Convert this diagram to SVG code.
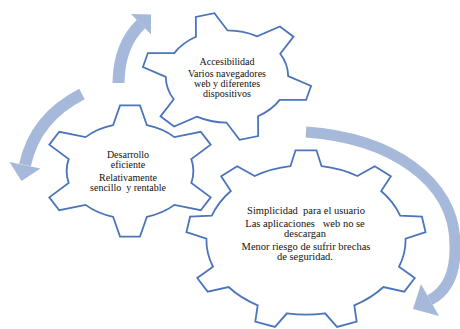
<svg xmlns="http://www.w3.org/2000/svg" xmlns:xlink="http://www.w3.org/1999/xlink" width="460" height="329" viewBox="0 0 460 329">
<style>
.gear{fill:#ffffff;stroke:#4a74bb;stroke-width:1.8;stroke-linejoin:miter;vector-effect:non-scaling-stroke}
.band{fill:none;stroke:#a6b9da;stroke-width:12;stroke-linecap:butt}
.head{fill:#a6b9da}
.t{font-family:"Liberation Serif","Times New Roman",serif;font-size:10px;fill:#111;text-anchor:middle;white-space:pre}
.tb{font-size:10.5px}
</style>
<defs>
<path id="gear6" class="gear" d="M-19.24,-69.38 L-11.32,-99.36 L11.32,-99.36 L19.24,-69.38 A72,72 0 0 1 50.46,-51.36 L80.39,-59.48 L91.71,-39.87 L69.70,-18.03 A72,72 0 0 1 69.70,18.03 L91.71,39.87 L80.39,59.48 L50.46,51.36 A72,72 0 0 1 19.24,69.38 L11.32,99.36 L-11.32,99.36 L-19.24,69.38 A72,72 0 0 1 -50.46,51.36 L-80.39,59.48 L-91.71,39.87 L-69.70,18.03 A72,72 0 0 1 -69.70,-18.03 L-91.71,-39.87 L-80.39,-59.48 L-50.46,-51.36 A72,72 0 0 1 -19.24,-69.38 Z"/>
<path id="gear9" class="gear" d="M-12.98,-81.98 L-8.72,-99.62 L8.72,-99.62 L12.98,-81.98 A83,83 0 0 1 42.75,-71.15 L57.36,-81.92 L70.71,-70.71 L62.64,-54.46 A83,83 0 0 1 78.48,-27.02 L96.59,-25.88 L99.62,-8.72 L82.99,-1.45 A83,83 0 0 1 77.49,29.75 L90.63,42.26 L81.92,57.36 L64.50,52.23 A83,83 0 0 1 40.24,72.59 L42.26,90.63 L25.88,96.59 L15.84,81.47 A83,83 0 0 1 -15.84,81.47 L-25.88,96.59 L-42.26,90.63 L-40.24,72.59 A83,83 0 0 1 -64.50,52.23 L-81.92,57.36 L-90.63,42.26 L-77.49,29.75 A83,83 0 0 1 -82.99,-1.45 L-99.62,-8.72 L-96.59,-25.88 L-78.48,-27.02 A83,83 0 0 1 -62.64,-54.46 L-70.71,-70.71 L-57.36,-81.92 L-42.75,-71.15 A83,83 0 0 1 -12.98,-81.98 Z"/>
</defs>
<rect width="460" height="329" fill="#ffffff"/>
<g id="connectors">
<path class="band" d="M82,94 Q35,118 25,165"/>
<polygon class="head" points="9.5,162 40.5,168.5 21.5,181"/>
<path class="band" d="M118.5,83 Q119,45 141,24"/>
<polygon class="head" points="131,14 151,34.5 151,14.5"/>
<path class="band" style="stroke-width:11" d="M306,132 C390,138 455,180 455,245 C456,275 445,292 430,300"/>
<polygon class="head" points="421,284 439,316 413,309"/>
</g>
<g id="gear-accesibilidad">
<use xlink:href="#gear6" href="#gear6" transform="translate(227,76.5) scale(0.85,0.64) rotate(-15)"/>
<text class="t" x="227" y="64.5">Accesibilidad</text>
<text class="t" x="227" y="76.5">Varios navegadores</text>
<text class="t" x="227" y="86.5">web y diferentes</text>
<text class="t" x="227" y="96.5">dispositivos</text>
</g>
<g id="gear-desarrollo">
<use xlink:href="#gear6" href="#gear6" transform="translate(130,171) scale(0.88,0.66)"/>
<text class="t" x="128" y="158">Desarrollo</text>
<text class="t" x="128" y="168">eficiente</text>
<text class="t" x="128" y="181">Relativamente</text>
<text class="t" x="128" y="191">sencillo  y rentable</text>
</g>
<g id="gear-simplicidad">
<use xlink:href="#gear9" href="#gear9" transform="translate(306,240) scale(1.2,0.9)"/>
<text class="t tb" x="306" y="214">Simplicidad  para el usuario</text>
<text class="t tb" x="305" y="226.5">Las aplicaciones   web no se</text>
<text class="t tb" x="305" y="236.5">descargan</text>
<text class="t tb" x="306" y="249.5">Menor riesgo de sufrir brechas</text>
<text class="t tb" x="305" y="259.5">de seguridad.</text>
</g>
</svg>
